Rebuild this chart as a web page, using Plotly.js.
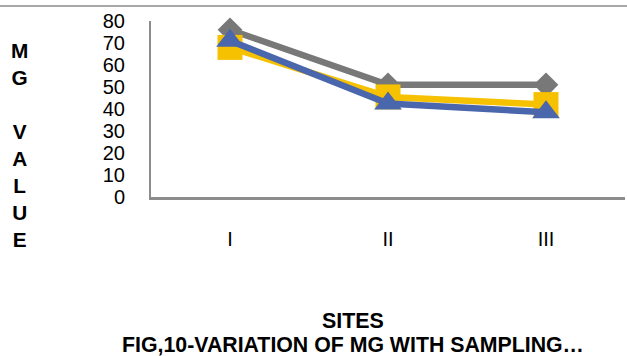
<!DOCTYPE html>
<html>
<head>
<meta charset="utf-8">
<script src="https://cdn.plot.ly/plotly-3.0.1.min.js"></script>
<style>
  html, body { margin: 0; padding: 0; background: #ffffff; }
  #chart { width: 627px; height: 356px; }
</style>
</head>
<body>
<div id="chart"></div>
<script>
// Sampling sites along the x axis
const sites = ['I', 'II', 'III'];

// Mg values (mg/L) per site for the three sampling series
const seriesGray = [76, 51, 51];
const seriesYellow = [68, 45.5, 42];
const seriesBlue = [71, 42.5, 38.5];

// Y axis ticks
const yTicks = [0, 10, 20, 30, 40, 50, 60, 70, 80];

const FONT = 'Liberation Sans, Arial, sans-serif';

function series(name, values, color, symbol, size) {
  return {
    type: 'scatter',
    mode: 'lines+markers',
    name: name,
    x: sites,
    y: values,
    line: { color: color, width: 6.5 },
    marker: { color: color, symbol: symbol, size: size, line: { width: 0 } },
    cliponaxis: false,
    hoverinfo: 'x+y'
  };
}

const data = [
  series('Series 1', seriesGray, '#787878', 'diamond', 19),
  series('Series 2', seriesYellow, '#F6C100', 'square', 25),
  series('Series 3', seriesBlue, '#4A66AD', 'triangle-up', 24)
];

const layout = {
  width: 627,
  height: 356,
  margin: { l: 151, r: 2, t: 21, b: 159 },
  paper_bgcolor: '#ffffff',
  plot_bgcolor: '#ffffff',
  showlegend: false,
  font: { family: FONT, color: '#000000' },
  title: {
    text: '<b>FIG,10-VARIATION OF MG WITH SAMPLING…</b>',
    font: { family: FONT, size: 21.3, color: '#000000' },
    xref: 'container', yref: 'container',
    x: 353 / 627, y: 1 - 344.5 / 356,
    xanchor: 'center', yanchor: 'middle'
  },
  xaxis: {
    type: 'category',
    range: [-0.5, sites.length - 0.5],
    showgrid: false,
    zeroline: false,
    showline: true,
    linecolor: '#8c8c8c',
    linewidth: 2.5,
    ticks: '',
    ticklabelstandoff: 22,
    tickfont: { family: FONT, size: 20, color: '#000000' },
    fixedrange: true
  },
  yaxis: {
    range: [0, 80],
    tickvals: yTicks,
    ticktext: yTicks.map(String),
    showgrid: false,
    zeroline: false,
    showline: true,
    linecolor: '#8c8c8c',
    linewidth: 2,
    ticks: '',
    ticklabelstandoff: 20,
    tickfont: { family: FONT, size: 20, color: '#000000' },
    fixedrange: true
  },
  annotations: [
    {
      text: '<b>M<br>G<br><br>V<br>A<br>L<br>U<br>E</b>',
      xref: 'paper', yref: 'paper',
      x: (19 - 151) / 474, y: (197 - 145) / 176,
      xanchor: 'center', yanchor: 'middle',
      showarrow: false,
      font: { family: FONT, size: 20.8, color: '#000000' }
    },
    {
      text: '<b>SITES</b>',
      xref: 'paper', yref: 'paper',
      x: (353 - 151) / 474, y: (197 - 320.5) / 176,
      xanchor: 'center', yanchor: 'middle',
      showarrow: false,
      font: { family: FONT, size: 21.4, color: '#000000' }
    }
  ],
  shapes: [
    {
      type: 'line',
      xref: 'paper', yref: 'paper',
      x0: -151 / 474, x1: (627 - 151) / 474,
      y0: (197 - 6) / 176, y1: (197 - 6) / 176,
      line: { color: '#8a8a8a', width: 1.5 }
    }
  ]
};

Plotly.newPlot('chart', data, layout, { staticPlot: true, displayModeBar: false });
</script>
</body>
</html>
